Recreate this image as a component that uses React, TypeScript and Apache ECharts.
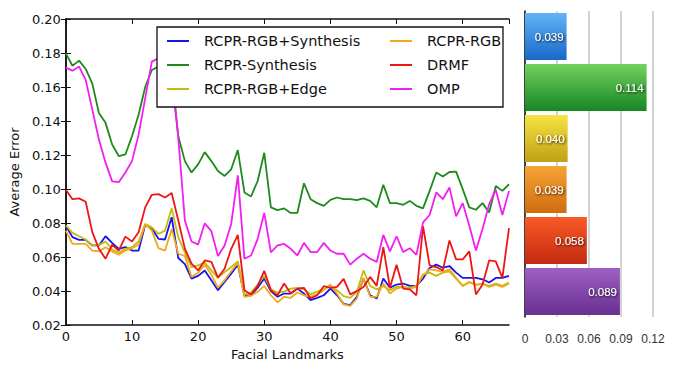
import React, { useEffect, useRef } from "react";
import * as echarts from "echarts";

const seriesNames = ["RCPR-RGB+Synthesis", "RCPR-Synthesis", "RCPR-RGB+Edge", "RCPR-RGB", "DRMF", "OMP"];
const lineColors = ["#1515ee", "#1e8a1e", "#c2bc10", "#f2a818", "#ee1515", "#f21ff2"];

const rgbSynthesis = [
  0.0784, 0.0717, 0.0701, 0.0701, 0.0668, 0.0668, 0.0722, 0.0683, 0.0648, 0.0658,
  0.0638, 0.0638, 0.0789, 0.0769, 0.0707, 0.0703, 0.0834, 0.0594, 0.0558, 0.0473,
  0.0489, 0.0521, 0.0463, 0.0405, 0.0454, 0.0502, 0.0555, 0.0372, 0.0375, 0.0419,
  0.0473, 0.0399, 0.0366, 0.0385, 0.0385, 0.0414, 0.0385, 0.0346, 0.036, 0.0375,
  0.0414, 0.0375, 0.0324, 0.0317, 0.0366, 0.0473, 0.0375, 0.0356, 0.0473, 0.0419,
  0.0438, 0.0444, 0.043, 0.043, 0.0473, 0.0535, 0.0555, 0.0537, 0.0547, 0.0508,
  0.0477, 0.0477, 0.0477, 0.0469, 0.045, 0.0477, 0.0477, 0.0489,
];
const synthesis = [
  0.1798, 0.1725, 0.1755, 0.1706, 0.162, 0.1447, 0.1389, 0.1262, 0.1194, 0.1203,
  0.131, 0.1437, 0.16, 0.17, 0.172, 0.171, 0.165, 0.131, 0.1164, 0.1097,
  0.1145, 0.1217, 0.1164, 0.1106, 0.1077, 0.1116, 0.1229, 0.098, 0.0956, 0.1047,
  0.1213, 0.0892, 0.0876, 0.0886, 0.0859, 0.0859, 0.1034, 0.094, 0.0917, 0.0901,
  0.0936, 0.095, 0.094, 0.094, 0.0935, 0.0945, 0.093, 0.0892, 0.1025, 0.0917,
  0.0917, 0.0907, 0.093, 0.0901, 0.0886, 0.0989, 0.1097, 0.1073, 0.11, 0.1102,
  0.0999, 0.0892, 0.0878, 0.0917, 0.0862, 0.1018, 0.0989, 0.1028,
];
const rgbEdge = [
  0.0786, 0.0742, 0.0722, 0.0703, 0.0668, 0.067, 0.0691, 0.0644, 0.0625, 0.0648,
  0.0658, 0.0691, 0.0794, 0.0774, 0.0736, 0.0755, 0.0886, 0.0717, 0.0625, 0.0541,
  0.0551, 0.0567, 0.0521, 0.0477, 0.0512, 0.0541, 0.0574, 0.038, 0.0391, 0.0438,
  0.0489, 0.041, 0.0391, 0.0396, 0.0414, 0.0419, 0.041, 0.038, 0.0396, 0.041,
  0.043, 0.0405, 0.037, 0.036, 0.0395, 0.0521, 0.043, 0.041, 0.043, 0.0405,
  0.0424, 0.0424, 0.0419, 0.043, 0.0496, 0.0508, 0.0489, 0.0508, 0.0516, 0.0473,
  0.043, 0.045, 0.0438, 0.0444, 0.043, 0.0444, 0.043, 0.045,
];
const rgb = [
  0.0755, 0.0677, 0.0677, 0.0677, 0.0638, 0.0633, 0.0658, 0.0633, 0.0613, 0.0638,
  0.0652, 0.0672, 0.0794, 0.0755, 0.0652, 0.0638, 0.0765, 0.0619, 0.0606, 0.0483,
  0.0508, 0.0555, 0.0496, 0.0419, 0.0463, 0.0516, 0.0567, 0.0366, 0.0372, 0.0395,
  0.043, 0.0375, 0.0333, 0.0366, 0.036, 0.0391, 0.0375, 0.0366, 0.038, 0.0405,
  0.0438, 0.0385, 0.0321, 0.0313, 0.0356, 0.0477, 0.0366, 0.0366, 0.0444, 0.0385,
  0.0414, 0.0424, 0.0414, 0.0424, 0.0492, 0.0527, 0.0521, 0.0512, 0.0527, 0.0477,
  0.043, 0.0454, 0.0435, 0.0444, 0.0424, 0.0438, 0.0424, 0.0444,
];
const drmf = [
  0.0995, 0.094, 0.0945, 0.0925, 0.0746, 0.0648, 0.059, 0.0672, 0.0638, 0.072,
  0.0691, 0.0746, 0.0892, 0.0966, 0.097, 0.095, 0.0976, 0.0815, 0.0648, 0.0561,
  0.0521, 0.058, 0.0571, 0.0479, 0.0531, 0.0648, 0.073, 0.0405, 0.038, 0.043,
  0.0518, 0.0405, 0.0375, 0.0444, 0.0385, 0.0414, 0.0419, 0.0356, 0.0375, 0.0428,
  0.0419, 0.0424, 0.0471, 0.038, 0.0399, 0.0424, 0.0483, 0.043, 0.0658, 0.0419,
  0.0555, 0.0414, 0.041, 0.0375, 0.0781, 0.0551, 0.0541, 0.0521, 0.0697, 0.0586,
  0.0586, 0.0633, 0.038, 0.0438, 0.058, 0.0574, 0.0477, 0.077,
];
const omp = [
  0.1714, 0.1696, 0.172, 0.1642, 0.1467, 0.1291, 0.1155, 0.1045, 0.104, 0.1097,
  0.1164, 0.132, 0.1535, 0.1749, 0.1769, 0.178, 0.172, 0.13, 0.0814, 0.0691,
  0.0673, 0.0798, 0.0752, 0.0606, 0.0668, 0.0794, 0.108, 0.059, 0.0609, 0.0707,
  0.0859, 0.0627, 0.0668, 0.0677, 0.0648, 0.0609, 0.0683, 0.0629, 0.0629, 0.0683,
  0.0638, 0.0619, 0.0619, 0.0555, 0.059, 0.0619, 0.059, 0.0571, 0.073, 0.0633,
  0.0722, 0.0629, 0.0652, 0.0613, 0.0804, 0.0847, 0.098, 0.094, 0.1009, 0.0839,
  0.0917, 0.0784, 0.0638, 0.0765, 0.0911, 0.0995, 0.0847, 0.0989,
];
const lineData = [rgbSynthesis, synthesis, rgbEdge, rgb, drmf, omp];

const meanErrors = [0.039, 0.114, 0.04, 0.039, 0.058, 0.089];
const barTop = ["#62b4f6", "#72d25e", "#f6e444", "#f5a434", "#f85a26", "#9c60c2"];
const barBottom = ["#1868c8", "#178624", "#c2a012", "#cf6c10", "#c42a10", "#683090"];

const FONT = "DejaVu Sans";

export default function App() {
  const ref = useRef<HTMLDivElement>(null);
  useEffect(() => {
    if (!ref.current) return;
    const chart = echarts.init(ref.current, undefined, { renderer: "svg" });
    const axisLineStyle = { color: "#111", width: 1.5 };
    const option: any = {
      animation: false,
      backgroundColor: "#fff",
      grid: [
        { left: 63, right: 176, top: 19, bottom: 39 },
        { left: 525, right: 32, top: 11, bottom: 49 },
      ],
      xAxis: [
        {
          gridIndex: 0, type: "value", min: 0, max: 67, interval: 10,
          name: "Facial Landmarks", nameLocation: "middle", nameGap: 23,
          nameTextStyle: { fontFamily: FONT, fontSize: 13, color: "#111" },
          axisLine: { show: true, lineStyle: axisLineStyle },
          axisTick: { show: true, inside: true, length: 5, lineStyle: { color: "#111" } },
          axisLabel: { fontFamily: FONT, fontSize: 13, color: "#111", margin: 5, showMaxLabel: false },
          splitLine: { show: false },
        },
        {
          gridIndex: 0, type: "value", min: 0, max: 67, interval: 10, position: "top",
          axisLine: { show: true, lineStyle: axisLineStyle },
          axisTick: { show: true, inside: true, length: 5, lineStyle: { color: "#111" } },
          axisLabel: { show: false },
          splitLine: { show: false },
        },
        {
          gridIndex: 1, type: "value", min: 0, max: 0.12, interval: 0.03,
          axisLine: { show: false },
          axisTick: { show: false },
          axisLabel: {
            fontFamily: "Liberation Sans", fontSize: 12, color: "#333", margin: 16,
            formatter: (v: number) => (v === 0 ? "0" : v.toFixed(2)),
          },
          splitLine: { show: true, lineStyle: { color: "#c4c4c4", width: 1.5 } },
        },
      ],
      yAxis: [
        {
          gridIndex: 0, type: "value", min: 0.02, max: 0.2, interval: 0.02,
          name: "Average Error", nameLocation: "middle", nameGap: 39, nameRotate: 90,
          nameTextStyle: { fontFamily: FONT, fontSize: 13, color: "#111" },
          axisLine: { show: true, lineStyle: axisLineStyle },
          axisTick: { show: true, inside: true, length: 5, lineStyle: { color: "#111" } },
          axisLabel: { fontFamily: FONT, fontSize: 13, color: "#111", margin: 5, formatter: (v: number) => v.toFixed(2) },
          splitLine: { show: false },
        },
        {
          gridIndex: 0, type: "value", min: 0.02, max: 0.2, interval: 0.02, position: "right",
          axisLine: { show: true, lineStyle: axisLineStyle },
          axisTick: { show: true, inside: true, length: 5, lineStyle: { color: "#111" } },
          axisLabel: { show: false },
          splitLine: { show: false },
        },
        {
          gridIndex: 1, type: "category", data: seriesNames, inverse: true,
          axisLine: { show: true, lineStyle: { color: "#111", width: 1.5 } },
          axisTick: { show: false },
          axisLabel: { show: false },
        },
      ],
      legend: [
        {
          data: seriesNames.slice(0, 3), orient: "vertical", left: 167, top: 33, padding: 0,
          itemWidth: 22, itemHeight: 2, itemGap: 8, icon: "rect", z: 10,
          textStyle: { fontFamily: FONT, fontSize: 14.5, color: "#111", lineHeight: 16, padding: [0, 0, 0, 10] },
        },
        {
          data: seriesNames.slice(3), orient: "vertical", left: 390, top: 33, padding: 0,
          itemWidth: 22, itemHeight: 2, itemGap: 8, icon: "rect", z: 10,
          textStyle: { fontFamily: FONT, fontSize: 14.5, color: "#111", lineHeight: 16, padding: [0, 0, 0, 10] },
        },
      ],
      graphic: [
        {
          type: "rect", z: 8,
          shape: { x: 157, y: 27, width: 346, height: 80 },
          style: { fill: "#fff", stroke: "#111", lineWidth: 1.3 },
        },
      ],
      series: [
        ...seriesNames.map((name, k) => ({
          name, type: "line", xAxisIndex: 0, yAxisIndex: 0,
          data: lineData[k].map((v, i) => [i, v]),
          showSymbol: false, symbol: "none",
          lineStyle: { color: lineColors[k], width: 1.8 },
          itemStyle: { color: lineColors[k] },
          z: 2 + k * 0.01,
        })),
        {
          type: "bar", xAxisIndex: 2, yAxisIndex: 2, barWidth: 47,
          data: meanErrors.map((v, i) => ({
            value: v,
            itemStyle: {
              color: new echarts.graphic.LinearGradient(0, 0, 0, 1, [
                { offset: 0, color: barTop[i] },
                { offset: 1, color: barBottom[i] },
              ]),
            },
          })),
          label: {
            show: true, position: "insideRight", distance: 3,
            formatter: (p: any) => p.value.toFixed(3),
            fontFamily: "Liberation Sans", fontSize: 11.5, color: "#fff",
            textShadowColor: "rgba(0,0,0,0.9)", textShadowBlur: 2, textShadowOffsetX: 1, textShadowOffsetY: 1,
          },
        },
      ],
    };
    chart.setOption(option);
    return () => chart.dispose();
  }, []);
  return <div ref={ref} style={{ position: "fixed", left: 0, top: 0, width: 685, height: 366 }} />;
}
